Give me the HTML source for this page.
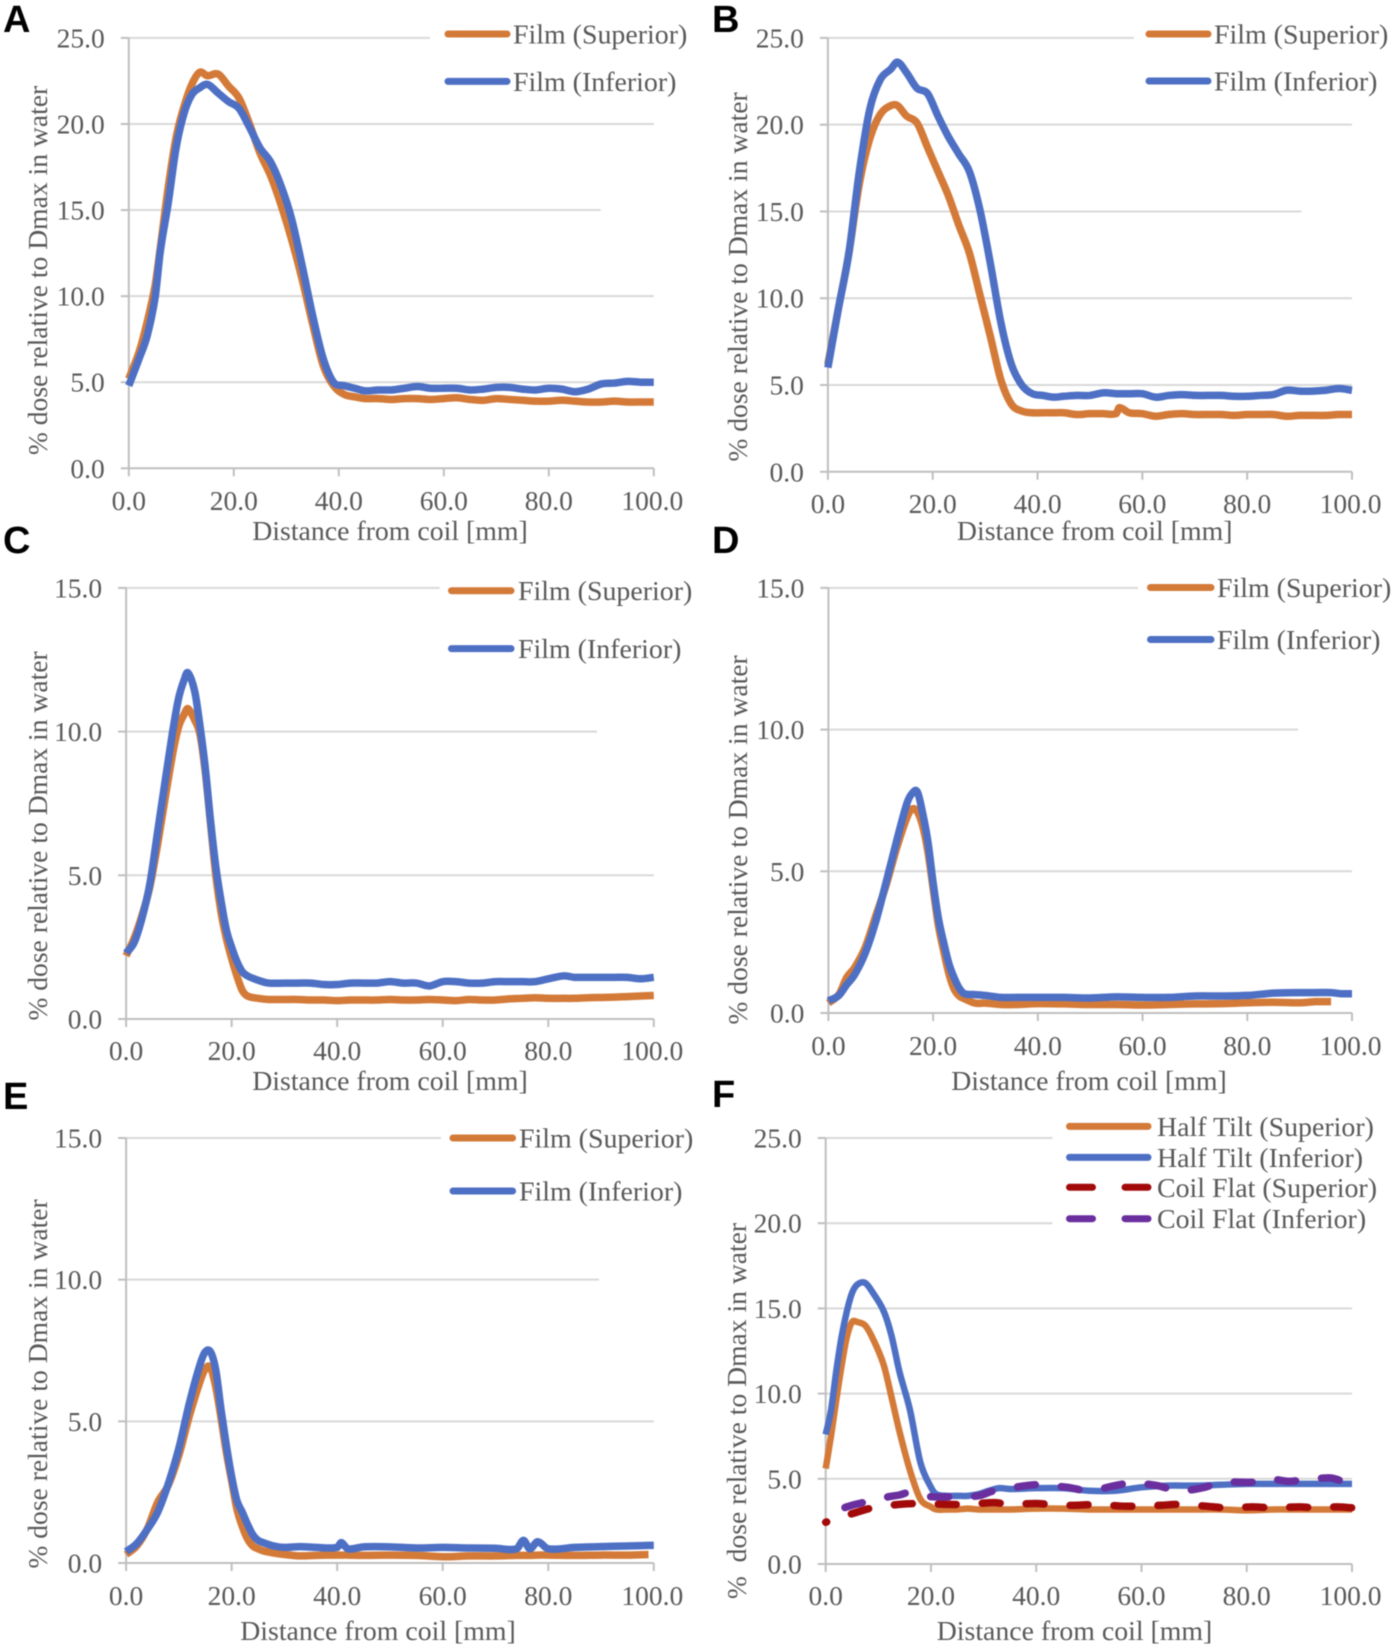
<!DOCTYPE html>
<html lang="en">
<head>
<meta charset="utf-8">
<title>Dose profiles relative to Dmax in water</title>
<style>
html,body{margin:0;padding:0;background:#fff;width:1400px;height:1652px;overflow:hidden}
svg{display:block;filter:blur(0.45px)}
text{font-family:"Liberation Serif",serif;fill:#595959}
.letter{font-family:"Liberation Sans",sans-serif;font-weight:700;font-size:38px;fill:#000}
</style>
</head>
<body>
<svg id="figure" xmlns="http://www.w3.org/2000/svg" width="1400" height="1652" viewBox="0 0 1400 1652"></svg>
<script>
// ---------- chart data ----------
const xTickLabels = ["0.0","20.0","40.0","60.0","80.0","100.0"];
const yTickLabels25 = ["0.0","5.0","10.0","15.0","20.0","25.0"];
const yTickLabels15 = ["0.0","5.0","10.0","15.0"];

const panelADistance = [0,2,3.5,5,6,7.5,9,10.5,12,13.5,15,17,19,21,23,25,27,29,31,33,35,37,39,41,43,45,47.5,50,52.5,55,57.5,60,62.5,65,67.5,70,72.5,75,77.5,80,82.5,85,87.5,90,92.5,95,97.5,100];
const panelASuperior = [5.2,6.8,8.5,10.6,12.8,16.3,19.2,21,22.3,23,22.8,22.9,22.2,21.5,20,18.3,17,15.3,13.3,11,8.4,6,4.8,4.3,4.15,4.05,4.05,4.0,4.05,4.05,4.0,4.05,4.1,4.0,3.95,4.05,4.0,3.95,3.9,3.9,3.95,3.9,3.85,3.85,3.9,3.85,3.85,3.85];
const panelAInferior = [4.8,6.4,7.7,9.9,12.6,15.4,18.6,20.6,21.7,22.1,22.3,21.8,21.3,20.9,19.8,18.6,17.8,16.4,14.5,11.8,8.9,6.4,5.0,4.8,4.65,4.5,4.55,4.55,4.65,4.75,4.65,4.65,4.65,4.55,4.6,4.7,4.7,4.6,4.55,4.65,4.6,4.45,4.6,4.9,4.95,5.05,5.0,5.0];

const panelBDistance = [0,2,4,6,8,10,12,13.3,15,17,19,21,23,25,27,29,31,33,35,37,39,41,43,45,47.5,50,52.5,55,55.6,57.5,60,62.5,65,67.5,70,72.5,75,77.5,80,82.5,85,87.5,90,92.5,95,97.5,100];
const panelBSuperior = [6.2,9.4,12.6,16.6,19.2,20.6,21.1,21.1,20.5,20.1,18.7,17.3,15.9,14.2,12.6,10.2,7.8,5.3,3.9,3.5,3.4,3.4,3.4,3.4,3.3,3.35,3.35,3.35,3.7,3.4,3.35,3.2,3.3,3.35,3.3,3.3,3.3,3.25,3.3,3.3,3.3,3.2,3.25,3.25,3.25,3.3,3.3];
const panelBInferior = [6,9.4,12.6,17.3,20.9,22.6,23.2,23.6,23,22.1,21.8,20.5,19.3,18.3,17.3,15.1,12,8.6,6.2,5,4.5,4.4,4.3,4.35,4.4,4.4,4.55,4.5,4.5,4.5,4.5,4.3,4.4,4.45,4.4,4.4,4.4,4.35,4.35,4.4,4.45,4.7,4.65,4.65,4.7,4.8,4.7];

const panelCDistance = [0,1.5,3,4.5,6,7.5,9,10,11,11.7,13,14,15,16,17,18,19,20,21,22,23,25,27,30,32.5,35,37.5,40,42.5,45,47.5,50,52.5,55,57.5,60,62.5,65,67.5,70,72.5,75,77.5,80,83,85,87.5,90,92.5,95,97.5,100];
const panelCSuperior = [2.2,2.8,3.6,4.6,6.1,7.8,9.4,10.2,10.6,10.8,10.4,9.9,8.6,6.8,5,3.7,2.8,2.1,1.5,1,0.8,0.72,0.68,0.68,0.68,0.66,0.66,0.64,0.66,0.66,0.66,0.68,0.66,0.66,0.68,0.66,0.64,0.68,0.66,0.66,0.7,0.72,0.74,0.72,0.72,0.72,0.74,0.75,0.76,0.78,0.8,0.82];
const panelCInferior = [2.3,2.65,3.5,4.7,6.55,8.4,10.2,11.2,11.8,12.05,11.4,10.2,8.75,6.9,5.3,4.1,3.1,2.5,2,1.65,1.5,1.35,1.25,1.25,1.25,1.25,1.2,1.2,1.25,1.25,1.25,1.3,1.25,1.25,1.15,1.3,1.3,1.25,1.25,1.3,1.3,1.3,1.3,1.4,1.5,1.45,1.45,1.45,1.45,1.45,1.4,1.45];

const panelDDistance = [0,2,3.5,5,7,9,11,13,15,16,17,18,19,20,21,22,23,24,25,26,28,30,33,36,40,45,50,55,60,65,70,75,80,85,90,93,96,98,100];
const panelDSuperior = [0.35,0.65,1.25,1.6,2.3,3.4,4.5,5.8,6.9,7.2,7.1,6.6,5.7,4.4,3.1,2.2,1.4,0.85,0.6,0.5,0.35,0.35,0.3,0.3,0.33,0.32,0.3,0.3,0.28,0.3,0.32,0.33,0.36,0.38,0.36,0.4,0.4];
const panelDInferior = [0.43,0.62,1,1.35,2.1,3.2,4.6,6.05,7.4,7.75,7.8,7.05,6.05,4.6,3.35,2.5,1.75,1.25,0.87,0.68,0.65,0.62,0.55,0.55,0.55,0.55,0.53,0.57,0.55,0.55,0.6,0.6,0.62,0.7,0.72,0.72,0.72,0.68,0.68];

const panelEDistance = [0,2,4,6,8,10,12,14,15,16,17,18,19,20,21,22,23,24,25,26,28,30,33,36,40,40.8,42,45,50,55,60,65,70,74,75.3,76.5,78,80,85,90,95,99,100];
const panelESuperior = [0.3,0.6,1.2,2.15,2.75,3.8,5.2,6.4,6.85,6.9,6.2,5.1,3.9,2.9,1.9,1.3,0.85,0.6,0.5,0.43,0.35,0.3,0.25,0.27,0.28,0.28,0.28,0.27,0.28,0.27,0.22,0.25,0.25,0.27,0.27,0.27,0.28,0.28,0.27,0.28,0.28,0.3];
const panelEInferior = [0.4,0.68,1.18,1.8,2.8,4.05,5.65,7,7.45,7.45,6.8,5.4,4.15,3.05,2.2,1.8,1.37,1,0.8,0.72,0.6,0.55,0.58,0.55,0.55,0.72,0.5,0.57,0.57,0.53,0.55,0.53,0.52,0.5,0.8,0.5,0.75,0.5,0.55,0.58,0.6,0.62,0.62];

const panelFDistance = [0,1,2,3,4,5,6,7.5,9,11,12.5,14,16,18,20,21,23,25,27,29,31,33,35,40,45,50,55,60,65,70,75,80,85,90,95,100];
const panelFHalfSuperior = [5.6,7.5,9.6,11.6,13.3,14.2,14.2,14,13.2,11.7,9.8,7.8,5.5,3.8,3.35,3.2,3.2,3.2,3.25,3.2,3.2,3.2,3.2,3.25,3.25,3.2,3.2,3.2,3.2,3.2,3.2,3.15,3.2,3.2,3.2,3.2];
const panelFHalfInferior = [7.6,9,11.3,13.3,14.8,15.9,16.4,16.5,15.9,14.85,13.4,11.3,9.05,5.95,4.5,4.1,4,4,4,4.1,4.3,4.45,4.4,4.45,4.45,4.3,4.3,4.5,4.6,4.6,4.65,4.7,4.7,4.7,4.7,4.7];
const panelFCoilSupDistance = [0,5.5,9,14,18,23,27,32,35,40,44,48,52,56,60,64,67,72,76,81,85,90,93,97,100];
const panelFCoilSuperior = [2.45,3.0,3.3,3.5,3.55,3.5,3.5,3.6,3.5,3.55,3.45,3.45,3.5,3.4,3.4,3.45,3.5,3.4,3.3,3.35,3.3,3.35,3.3,3.35,3.3];
const panelFCoilInfDistance = [0,3.5,5,7,8,10,12,14,16,20,24,29,32,37,40,46,50,55,58,63,67,72,75,81,84,88,91,96,98,100];
const panelFCoilInferior = [3,3.3,3.45,3.6,3.7,3.8,3.95,4.05,4.2,3.95,3.95,4,4.3,4.55,4.65,4.5,4.3,4.6,4.75,4.6,4.3,4.5,4.8,4.8,5,4.85,4.95,5.05,4.9,5];

// ---------- layout and styling ----------
const ORANGE = "#d47a38", BLUE = "#4e70c4", RED = "#a20a0a", PURPLE = "#6a2e9e";
const filmSeries = (xs, sup, inf) => [
  {slug:"film-superior", label:"Film (Superior)", color:ORANGE, xs:xs, ys:sup, width:7.5},
  {slug:"film-inferior", label:"Film (Inferior)", color:BLUE, xs:xs, ys:inf, width:7.5}
];
const panels = [
 {id:"a", letter:"A", lx:3, ly:32, x0:128.8, x1:653.8, yTop:37.9, yBot:468.3, yMax:25, ticks:yTickLabels25,
  gridEnds:{"25.0":430,"15.0":600.6}, xLabelY:510, xTitleX:390, xTitleY:540, yTitleX:47, yTitleY:270.5, yTitle:"% dose relative to Dmax in water",
  legend:{x0:448,x1:507,tx:513,ys:[34,81.4]}, series:filmSeries(panelADistance,panelASuperior,panelAInferior)},
 {id:"b", letter:"B", lx:712, ly:32, x0:827.9, x1:1352, yTop:37.9, yBot:471.8, yMax:25, ticks:yTickLabels25,
  gridEnds:{"25.0":1133.8,"15.0":1301.5}, xLabelY:513, xTitleX:1094.7, xTitleY:540, yTitleX:747, yTitleY:277, yTitle:"% dose relative to Dmax in water",
  legend:{x0:1149,x1:1208,tx:1214,ys:[34,81]}, series:filmSeries(panelBDistance,panelBSuperior,panelBInferior)},
 {id:"c", letter:"C", lx:3, ly:553, x0:126.1, x1:653.8, yTop:587.9, yBot:1019, yMax:15, ticks:yTickLabels15,
  gridEnds:{"15.0":439.6,"10.0":597}, xLabelY:1060, xTitleX:390, xTitleY:1090, yTitleX:47, yTitleY:836, yTitle:"% dose relative to Dmax in water",
  legend:{x0:451.5,x1:511,tx:518,ys:[590.7,648.6]}, series:filmSeries(panelCDistance,panelCSuperior,panelCInferior)},
 {id:"d", letter:"D", lx:712, ly:553, x0:828.4, x1:1352, yTop:587.9, yBot:1013, yMax:15, ticks:yTickLabels15,
  gridEnds:{"15.0":1138,"10.0":1298}, xLabelY:1055, xTitleX:1089, xTitleY:1090, yTitleX:747, yTitleY:840, yTitle:"% dose relative to Dmax in water",
  legend:{x0:1150.5,x1:1211,tx:1217,ys:[587.5,639.5]}, series:filmSeries(panelDDistance,panelDSuperior,panelDInferior)},
 {id:"e", letter:"E", lx:3, ly:1109, x0:126.1, x1:653.8, yTop:1138, yBot:1563, yMax:15, ticks:yTickLabels15,
  gridEnds:{"15.0":441,"10.0":599}, xLabelY:1605, xTitleX:378, xTitleY:1640, yTitleX:47, yTitleY:1384, yTitle:"% dose relative to Dmax in water",
  legend:{x0:453,x1:512.6,tx:519,ys:[1138,1191]}, series:filmSeries(panelEDistance,panelESuperior,panelEInferior)},
 {id:"f", letter:"F", lx:712, ly:1107, x0:825.7, x1:1352, yTop:1138, yBot:1564, yMax:25, ticks:yTickLabels25,
  gridEnds:{"25.0":1052.4,"20.0":1052.4}, xLabelY:1605, xTitleX:1074.5, xTitleY:1640, yTitleX:746, yTitleY:1411, yTitle:"%\u00a0\u00a0dose relative to Dmax in water",
  legend:{x0:1069.5,x1:1148,tx:1157,ys:[1126.4,1157.4,1187.3,1218.7]},
  series:[
   {slug:"half-tilt-superior", label:"Half Tilt (Superior)", color:ORANGE, xs:panelFDistance, ys:panelFHalfSuperior, width:6.5},
   {slug:"half-tilt-inferior", label:"Half Tilt (Inferior)", color:BLUE, xs:panelFDistance, ys:panelFHalfInferior, width:6.5},
   {slug:"coil-flat-superior", label:"Coil Flat (Superior)", color:RED, xs:panelFCoilSupDistance, ys:panelFCoilSuperior, width:7.5, dash:"18 26", offset:17},
   {slug:"coil-flat-inferior", label:"Coil Flat (Inferior)", color:PURPLE, xs:panelFCoilInfDistance, ys:panelFCoilInferior, width:7.5, dash:"18 26", offset:24}
  ]}
];

const NS = "http://www.w3.org/2000/svg";
const figure = document.getElementById("figure");
function make(parent, tag, attrs, text){
  const el = document.createElementNS(NS, tag);
  for (const k in attrs) el.setAttribute(k, attrs[k]);
  if (text !== undefined) el.textContent = text;
  parent.appendChild(el);
  return el;
}
// smooth path through the given screen points (Hermite segments, x never reverses)
function smoothPath(pts){
  const slope = i => {
    const a = pts[Math.max(i - 1, 0)], b = pts[Math.min(i + 1, pts.length - 1)];
    return (b[1] - a[1]) / (b[0] - a[0]);
  };
  let d = "M" + pts[0][0].toFixed(2) + " " + pts[0][1].toFixed(2);
  for (let i = 0; i < pts.length - 1; i++) {
    const h = (pts[i+1][0] - pts[i][0]) / 3;
    d += "C" + (pts[i][0] + h).toFixed(2) + " " + (pts[i][1] + slope(i) * h).toFixed(2) + " " +
         (pts[i+1][0] - h).toFixed(2) + " " + (pts[i+1][1] - slope(i+1) * h).toFixed(2) + " " +
         pts[i+1][0].toFixed(2) + " " + pts[i+1][1].toFixed(2);
  }
  return d;
}

panels.forEach(function(p){
  const xScale = v => p.x0 + (v / 100) * (p.x1 - p.x0);
  const yScale = v => p.yBot - (v / p.yMax) * (p.yBot - p.yTop);

  const panel = make(figure, "g", {});
  
  

  const letter = make(panel, "text", {x:p.lx, y:p.ly, "class":"letter"}, p.letter);
  
  

  // gridlines and y axis ticks
  p.ticks.forEach(function(label){
    const v = parseFloat(label), y = yScale(v);
    if (v > 0) {
      const end = p.gridEnds[label] !== undefined ? p.gridEnds[label] : p.x1;
      const grid = make(panel, "line", {x1:p.x0, x2:end, y1:y, y2:y, stroke:"#d9d9d9", "stroke-width":2});
      
      
    }
    const tick = make(panel, "line", {x1:p.x0-8, x2:p.x0, y1:y, y2:y, stroke:"#bfbfbf", "stroke-width":2});
    
    
    const t = make(panel, "text", {x:p.x0-24, y:y+9.5, "text-anchor":"end", "font-size":27.5}, label);
    
    
  });

  // x axis ticks
  xTickLabels.forEach(function(label){
    const x = xScale(parseFloat(label));
    const tick = make(panel, "line", {x1:x, x2:x, y1:p.yBot, y2:p.yBot+8, stroke:"#bfbfbf", "stroke-width":2});
    
    
    const t = make(panel, "text", {x:x - (label === "100.0" ? 1.5 : 0), y:p.xLabelY, "text-anchor":"middle", "font-size":27.5}, label);
    
    
  });

  const yAxis = make(panel, "line", {x1:p.x0, x2:p.x0, y1:p.yTop, y2:p.yBot, stroke:"#bfbfbf", "stroke-width":2});
  
  
  const xAxis = make(panel, "line", {x1:p.x0, x2:p.x1, y1:p.yBot, y2:p.yBot, stroke:"#bfbfbf", "stroke-width":2});
  
  

  const xTitle = make(panel, "text", {x:p.xTitleX, y:p.xTitleY, "text-anchor":"middle", "font-size":27.8}, "Distance from coil [mm]");
  
  
  const yTitle = make(panel, "text", {transform:"translate("+p.yTitleX+" "+p.yTitleY+") rotate(-90)", "text-anchor":"middle", "font-size":27.6}, p.yTitle);
  
  

  // series
  p.series.forEach(function(s){
    const pts = s.ys.map(function(v, i){ return [xScale(s.xs[i]), yScale(v)]; });
    const attrs = {d:smoothPath(pts), fill:"none", stroke:s.color, "stroke-width":s.width, "stroke-linejoin":"round"};
    if (s.dash) { attrs["stroke-dasharray"] = s.dash; attrs["stroke-dashoffset"] = s.offset; attrs["stroke-linecap"] = "round"; }
    const path = make(panel, "path", attrs);
    
    
  });

  // legend
  const legend = make(panel, "g", {});
  
  
  p.series.forEach(function(s, i){
    const y = p.legend.ys[i];
    const entry = make(legend, "g", {});
    
    
    const swatchAttrs = {x1:p.legend.x0, x2:p.legend.x1, y1:y, y2:y, stroke:s.color, "stroke-width":7, "stroke-linecap":"round"};
    if (s.dash) swatchAttrs["stroke-dasharray"] = "23 32.5";
    const swatch = make(entry, "line", swatchAttrs);
    
    
    const label = make(entry, "text", {x:p.legend.tx, y:y+9.5, "font-size":27.9}, s.label);
    
    
  });
});
</script>
</body>
</html>
